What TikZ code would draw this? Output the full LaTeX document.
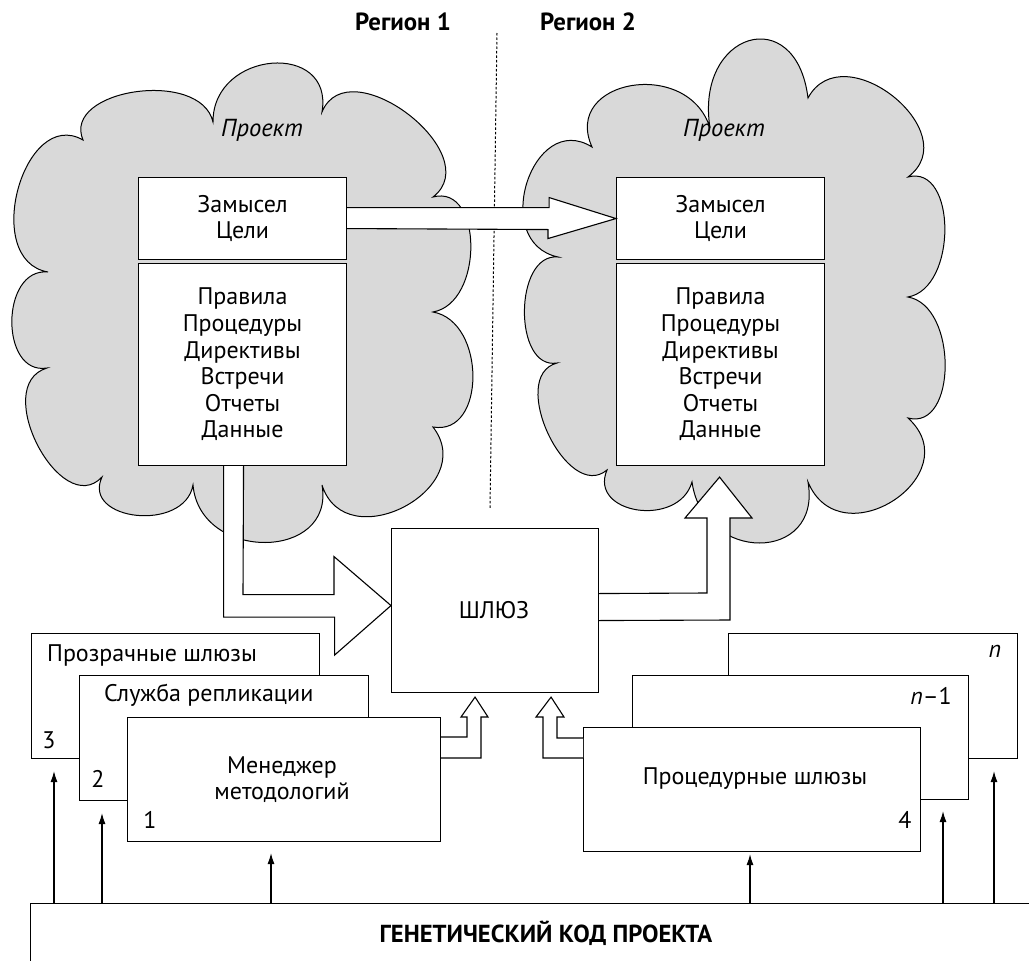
\documentclass[tikz,border=0pt]{standalone}
\usepackage{fontspec}
\setmainfont{PT Sans}
\usetikzlibrary{calc,arrows.meta}
\newcommand\lobe[5]{.. controls ($#1!#3!#4:#2$) and ($#2!#3!-#5:#1$) .. #2}
\tikzset{
  cloudshape/.style={draw=black, fill=black!15, line width=1pt},
  boxnode/.style={draw=black, fill=white, line width=1.1pt, inner sep=0pt, anchor=north west},
  blockarrow/.style={draw=black, fill=white, line width=1.1pt, line join=miter},
  body/.style={font=\fontsize{24}{26.6}\selectfont, align=center, inner sep=0pt},
  uparrow/.style={line width=1.1pt, -{Latex[length=11pt,width=7pt]}},
}
\begin{document}
\begin{tikzpicture}[x=1pt,y=-1pt]
\useasboundingbox (0,0) rectangle (1029,961);
\clip (0,0) rectangle (1029,961);

% region labels and divider
\node[font=\bfseries\fontsize{24.8}{28}\selectfont, inner sep=0pt] (reg1) at (403,22) {Регион 1};
\node[font=\bfseries\fontsize{24.8}{28}\selectfont, inner sep=0pt] (reg2) at (588,22) {Регион 2};
\coordinate (divtop) at (497,33);
\coordinate (divbot) at (490,508);
\draw[line width=1pt, dash pattern=on 2.5pt off 2pt] (divtop) -- (divbot);

% clouds
\draw[cloudshape] (83,140)
  \lobe{(83,140)}{(213,122)}{0.42}{105}{85}
  \lobe{(213,122)}{(322,112)}{0.66}{85}{105}
  \lobe{(322,112)}{(433,197)}{0.5}{105}{105}
  \lobe{(433,197)}{(433,312)}{0.45}{105}{80}
  \lobe{(433,312)}{(433,427)}{0.47}{80}{100}
  \lobe{(433,427)}{(322,485)}{0.62}{100}{100}
  \lobe{(322,485)}{(193,485)}{0.6}{100}{85}
  \lobe{(193,485)}{(102,477)}{0.53}{85}{110}
  \lobe{(102,477)}{(47,368)}{0.49}{110}{100}
  \lobe{(47,368)}{(48,272)}{0.5}{100}{95}
  \lobe{(48,272)}{(83,140)}{0.5}{95}{105} -- cycle;
\draw[cloudshape] (592,147)
  \lobe{(592,147)}{(710,128)}{0.62}{105}{82}
  \lobe{(710,128)}{(808,98)}{0.95}{82}{100}
  \lobe{(808,98)}{(908,177)}{0.58}{100}{105}
  \lobe{(908,177)}{(908,297)}{0.42}{105}{80}
  \lobe{(908,297)}{(908,418)}{0.42}{80}{105}
  \lobe{(908,418)}{(808,482)}{0.71}{105}{100}
  \lobe{(808,482)}{(692,482)}{0.71}{100}{82}
  \lobe{(692,482)}{(607,470)}{0.56}{82}{105}
  \lobe{(607,470)}{(557,363)}{0.44}{105}{100}
  \lobe{(557,363)}{(558,257)}{0.42}{100}{95}
  \lobe{(558,257)}{(592,147)}{0.61}{95}{105} -- cycle;

\node[font=\itshape\fontsize{24.6}{28}\selectfont, inner sep=0pt] (proj1) at (262,130) {Проект};
\node[font=\itshape\fontsize{24.6}{28}\selectfont, inner sep=0pt] (proj2) at (724,130) {Проект};

% boxes in clouds
\node[boxnode, minimum width=208pt, minimum height=82pt] (ltop) at (138,177) {};
\node[body] at (ltop.center) {Замысел\\Цели};
\node[boxnode, minimum width=208pt, minimum height=202pt] (lbot) at (138,263) {};
\node[body] at (lbot.center) {Правила\\Процедуры\\Директивы\\Встречи\\Отчеты\\Данные};
\node[boxnode, minimum width=208pt, minimum height=82pt] (rtop) at (616,177) {};
\node[body] at (rtop.center) {Замысел\\Цели};
\node[boxnode, minimum width=208pt, minimum height=202pt] (rbot) at (616,263) {};
\node[body] at (rbot.center) {Правила\\Процедуры\\Директивы\\Встречи\\Отчеты\\Данные};

% gateway
\node[boxnode, minimum width=207pt, minimum height=164pt] (gw) at (391,528) {};
\node[body] (gwt) at (494,610) {ШЛЮЗ};

% arrow between top boxes
\draw[blockarrow] ($(ltop.east)+(0,-11)$) -- ++(202,0) -- ++(0,-10) -- (rtop.west) -- ++(-68,20) -- ++(0,-9) -- ($(ltop.east)+(0,10)$);

% arrow from left box to gateway
\draw[blockarrow] ($(lbot.south)+(-19,0)$) -- ++(0,151) -- ++(111,0) -- ++(0,38) -- ($(gw.west)+(0,-5)$) -- ++(-57,-49) -- ++(0,38) -- ++(-91,0) -- ($(lbot.south)+(1,0)$);

% arrow from gateway to right box
\draw[blockarrow] ($(gw.east)+(0,-17)$) -- (707,593) -- (707,518) -- (685,518) -- ($(rbot.south)+(-1,11)$) -- (752,518) -- (730,518) -- (730,620) -- ($(gw.east)+(0,10)$);

% left stack
\node[boxnode, minimum width=288pt, minimum height=125pt] (b3) at (31,633) {};
\node[body, anchor=west] at (47,655) {Прозрачные шлюзы};
\node[body] at (49,740) {3};
\node[boxnode, minimum width=289pt, minimum height=125pt] (b2) at (79,675) {};
\node[body, anchor=west] at (104,695) {Служба репликации};
\node[body] at (98,779) {2};
\node[boxnode, minimum width=313pt, minimum height=124pt] (b1) at (127,717) {};
\node[body] at (282,779.5) {Менеджер\\методологий};
\node[body] at (150,820) {1};

% right stack
\node[boxnode, minimum width=289pt, minimum height=125pt] (bn) at (728,633) {};
\node[body] at (995,651) {\textit{n}};
\node[boxnode, minimum width=336pt, minimum height=124pt] (bn1) at (632,675) {};
\node[body, anchor=east] at (952,696) {\textit{n}–1};
\node[boxnode, minimum width=337pt, minimum height=124pt] (b4) at (583,727) {};
\node[body] at (755,779) {Процедурные шлюзы};
\node[body] at (905,820) {4};

% small arrows into gateway
\draw[blockarrow] (b1.east |- 0,737) -- (467,737) -- (467,717) -- (461,717) -- ($(gw.south)+(-20,4)$) -- (488,717) -- (481,717) -- (481,758) -- (b1.east |- 0,758);
\draw[blockarrow] (b4.west |- 0,738) -- (557,738) -- (557,717) -- (564,717) -- ($(gw.south)+(56,4)$) -- (536,717) -- (543,717) -- (543,758) -- (b4.west |- 0,758);

% genetic code
\node[draw=black, line width=1.1pt, inner sep=0pt, anchor=north west, minimum width=1100pt, minimum height=120pt] (gen) at (30,903) {};
\node[font=\bfseries\fontsize{24.6}{28}\selectfont, inner sep=0pt] (gent) at (546,933) {ГЕНЕТИЧЕСКИЙ КОД ПРОЕКТА};

\draw[uparrow] (gen.north -| 54,0) -- ($(b3.south -| 54,0)+(0,12)$);
\draw[uparrow] (gen.north -| 102,0) -- ($(b2.south -| 102,0)+(0,12)$);
\draw[uparrow] (gen.north -| 271,0) -- ($(b1.south -| 271,0)+(0,11)$);
\draw[uparrow] (gen.north -| 750,0) -- ($(b4.south -| 750,0)+(0,2)$);
\draw[uparrow] (gen.north -| 943,0) -- ($(bn1.south -| 943,0)+(0,11)$);
\draw[uparrow] (gen.north -| 994,0) -- ($(bn.south -| 994,0)+(0,12)$);
\end{tikzpicture}
\end{document}
